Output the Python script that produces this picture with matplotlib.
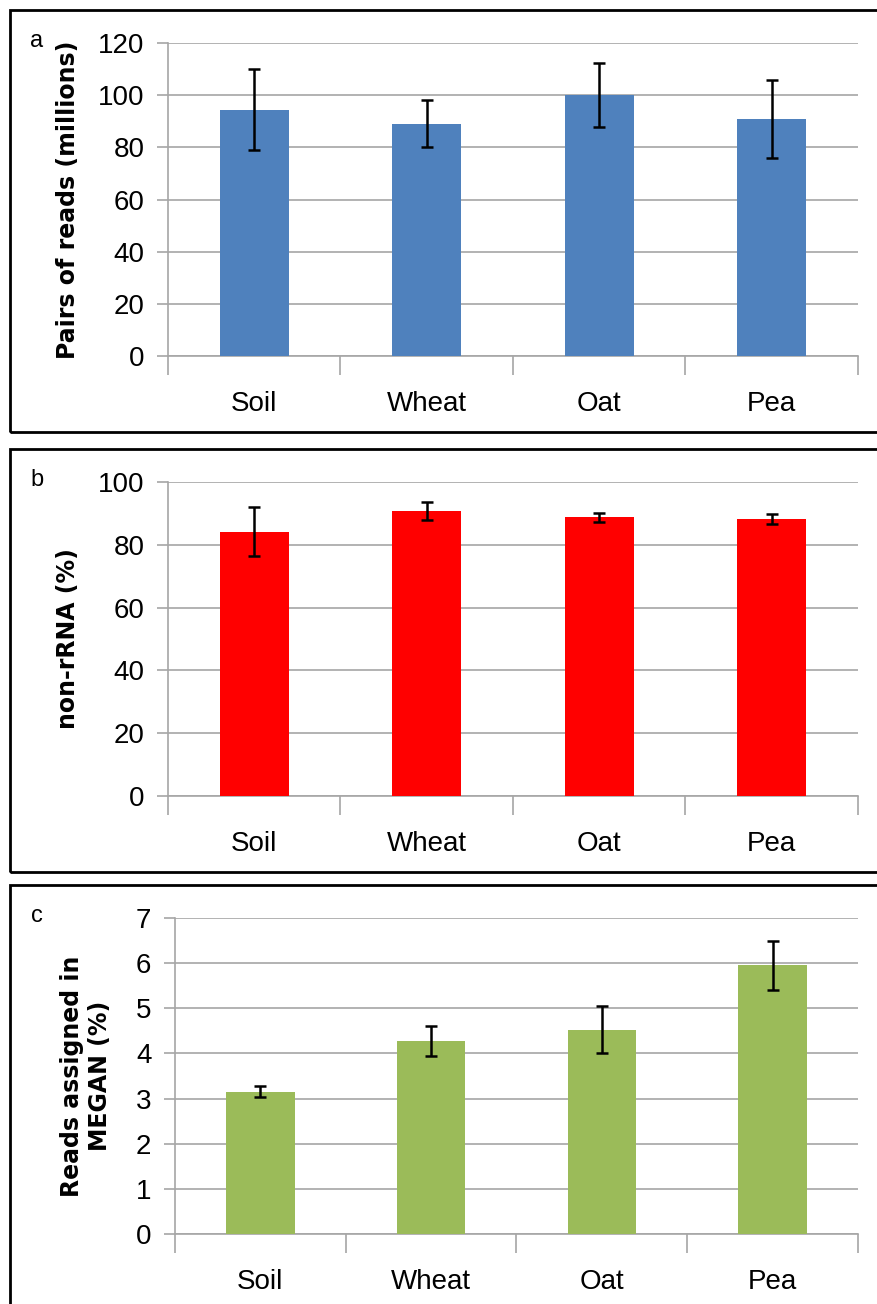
import matplotlib
matplotlib.use("Agg")
import matplotlib.pyplot as plt
import matplotlib.patches as mpatches

plt.rcParams["font.family"] = ["Liberation Sans Narrow", "Liberation Sans", "DejaVu Sans"]

W, H = 878, 1304
DPI = 100

categories = ["Soil", "Wheat", "Oat", "Pea"]

reads_mean = [94.5, 89.0, 100.0, 91.0]
reads_err = [15.5, 9.0, 12.3, 15.0]

nonrrna_mean = [84.2, 90.7, 88.7, 88.2]
nonrrna_err = [7.7, 2.9, 1.3, 1.6]

megan_mean = [3.15, 4.27, 4.53, 5.95]
megan_err = [0.12, 0.33, 0.52, 0.55]

panels = [
    # letter, values, errors, colour, ylabel, ymax, step, axes px (left, top, right, bottom), box px (top, bottom), ylabel x
    ("a", reads_mean, reads_err, "#4F81BD", "Pairs of reads (millions)", 120, 20,
     (168, 43, 858, 356), (10, 432), 68),
    ("b", nonrrna_mean, nonrrna_err, "#FF0000", "non-rRNA (%)", 100, 20,
     (168, 482, 858, 796), (449, 872), 68),
    ("c", megan_mean, megan_err, "#9BBB59", "Reads assigned in\nMEGAN (%)", 7, 1,
     (175, 918, 858, 1234), (885, 1310), 86),
]

fig = plt.figure(figsize=(W / DPI, H / DPI), dpi=DPI)
fig.patch.set_facecolor("white")

for letter, vals, errs, colour, ylabel, ymax, step, (l, t, r, b), (bt, bb), ylab_x in panels:
    # panel frame
    fig.patches.append(mpatches.Rectangle(
        (10 / W, 1 - bb / H), (W + 10) / W, (bb - bt) / H,
        transform=fig.transFigure, fill=False, edgecolor="black", linewidth=2))

    ax = fig.add_axes([l / W, 1 - b / H, (r - l) / W, (b - t) / H])
    x = range(len(categories))
    ax.bar(x, vals, width=0.4, color=colour, zorder=3)
    ax.errorbar(x, vals, yerr=errs, fmt="none", ecolor="black", elinewidth=1.8,
                capsize=4, capthick=1.8, zorder=4)

    ax.set_xlim(-0.5, len(categories) - 0.5)
    ax.set_ylim(0, ymax)
    ax.set_yticks(range(0, ymax + 1, step))
    ax.yaxis.grid(True, color="#A6A6A6", linewidth=1.2, zorder=0)
    ax.set_axisbelow(True)

    for side in ("top", "right"):
        ax.spines[side].set_visible(False)
    for side in ("left", "bottom"):
        ax.spines[side].set_color("#A6A6A6")
        ax.spines[side].set_linewidth(1.2)

    ax.set_xticks(list(x))
    ax.set_xticklabels(categories, fontsize=20)
    ax.tick_params(axis="x", length=0, pad=25)
    ax.set_xticks([i - 0.5 for i in range(len(categories) + 1)], minor=True)
    ax.tick_params(axis="x", which="minor", length=14, color="#A6A6A6", width=1.2)
    ax.tick_params(axis="y", length=8, color="#A6A6A6", width=1.2, labelsize=20, pad=9)

    fig.text(ylab_x / W, 1 - (t + b) / 2 / H, ylabel, rotation=90, ha="center",
             va="center", fontsize=17, fontweight="bold", family=["DejaVu Sans"],
             linespacing=1.2)
    fig.text(37 / W, 1 - (t - 2) / H, letter, ha="center", va="center", fontsize=17)

fig.savefig("out.png", dpi=DPI, facecolor="white")
